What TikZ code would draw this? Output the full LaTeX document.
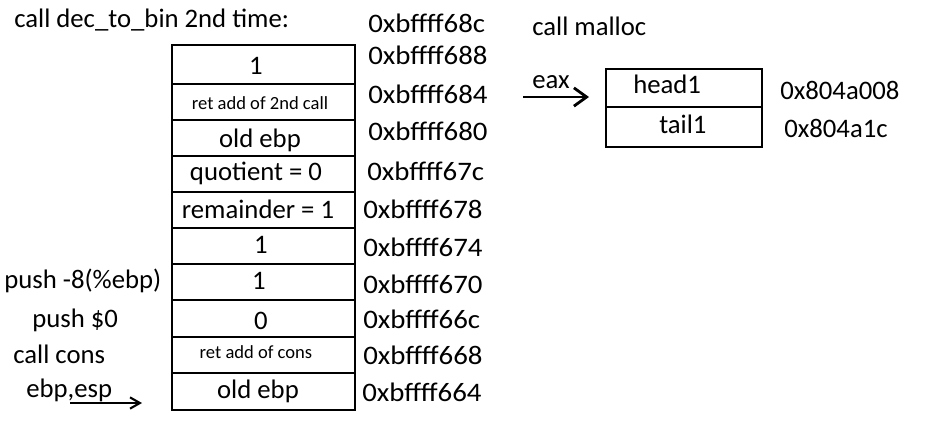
\documentclass[tikz,border=0pt]{standalone}
\usepackage{fontspec}
\setmainfont{Carlito}
\newfontfamily\addrfont[FakeStretch=1.08]{Carlito}
\usetikzlibrary{arrows.meta, positioning}

\begin{document}
\begin{tikzpicture}[x=0.025cm, y=-0.025cm,
    box/.style={line width=2.1pt},
    lbl/.style={anchor=base west, inner sep=0pt, font=\fontsize{19}{23}\selectfont},
    addr/.style={anchor=base west, inner sep=0pt, font=\addrfont\fontsize{19}{23}\selectfont},
    val/.style={anchor=base, inner sep=0pt, font=\fontsize{19}{23}\selectfont},
    tinyval/.style={anchor=base, inner sep=0pt, font=\fontsize{13.2}{16}\selectfont},
    ptr/.style={-{Straight Barb[length=7pt,width=8pt]}, line width=1.5pt}]
\useasboundingbox (0,0) rectangle (929,429);

% Title
\node[lbl] (title) at (14,27) {call dec\_to\_bin 2nd time:};

% Stack cells
\draw[box] (172,45) rectangle (355,84);
\node[val] (v688) at (256,74) {1};
\draw[box] (172,84) rectangle (355,120);
\node[tinyval] (ret2) at (260,109) {ret add of 2nd call};
\draw[box] (172,120) rectangle (355,156);
\node[val] (ebp680) at (260,147) {old ebp};
\draw[box] (172,156) rectangle (355,192);
\node[val] (quot) at (256,180) {quotient = 0};
\draw[box] (172,192) rectangle (355,228);
\node[val] (rem) at (258,218) {remainder = 1};
\draw[box] (172,228) rectangle (355,264);
\node[val] (v674) at (261,253) {1};
\draw[box] (172,264) rectangle (355,300);
\node[val] (v670) at (259,289) {1};
\draw[box] (172,300) rectangle (355,337);
\node[val] (v66c) at (261,329) {0};
\draw[box] (172,337) rectangle (355,373);
\node[tinyval] (retcons) at (256,358) {ret add of cons};
\draw[box] (172,373) rectangle (355,410);
\node[val] (ebp664) at (258,398) {old ebp};

% Addresses
\node[addr] (a68c) at (368,32) {0xbffff68c};
\node[addr] (a688) at (368,64) {0xbffff688};
\node[addr] (a684) at (368,103) {0xbffff684};
\node[addr] (a680) at (368,140) {0xbffff680};
\node[addr] (a67c) at (367,180) {0xbffff67c};
\node[addr] (a678) at (363,218) {0xbffff678};
\node[addr] (a674) at (363,256) {0xbffff674};
\node[addr] (a670) at (363,293) {0xbffff670};
\node[addr] (a66c) at (363,328) {0xbffff66c};
\node[addr] (a668) at (363,364) {0xbffff668};
\node[addr] (a664) at (362,401) {0xbffff664};

% Instructions
\node[lbl] (pushebp) at (4,288) {push -8(\%ebp)};
\node[lbl] (pushzero) at (32,327) {push \$0};
\node[lbl] (callcons) at (13,363) {call cons};
\node[lbl] (ebpesp) at (26,397) {ebp,esp};
\coordinate (espfrom) at (70,403);
\coordinate (espto) at (142,403);
\draw[ptr] (espfrom) -- (espto);

% Heap block from malloc
\node[lbl] (malloc) at (532,35) {call malloc};
\draw[box] (606,69) rectangle (762,147);
\draw[box] (606,107) -- (762,107);
\node[lbl] (head) at (633,93) {head1};
\node[lbl] (tail) at (659,133) {tail1};
\node[lbl] (h008) at (780,99) {0x804a008};
\node[lbl] (h01c) at (784,137) {0x804a1c};
\node[lbl] (eax) at (532,88) {eax};
\coordinate (eaxfrom) at (523,97);
\coordinate (eaxto) at (589,97);
\draw[ptr, line width=2pt, -{Straight Barb[length=9pt,width=13pt]}] (eaxfrom) -- (eaxto);
\end{tikzpicture}
\end{document}
